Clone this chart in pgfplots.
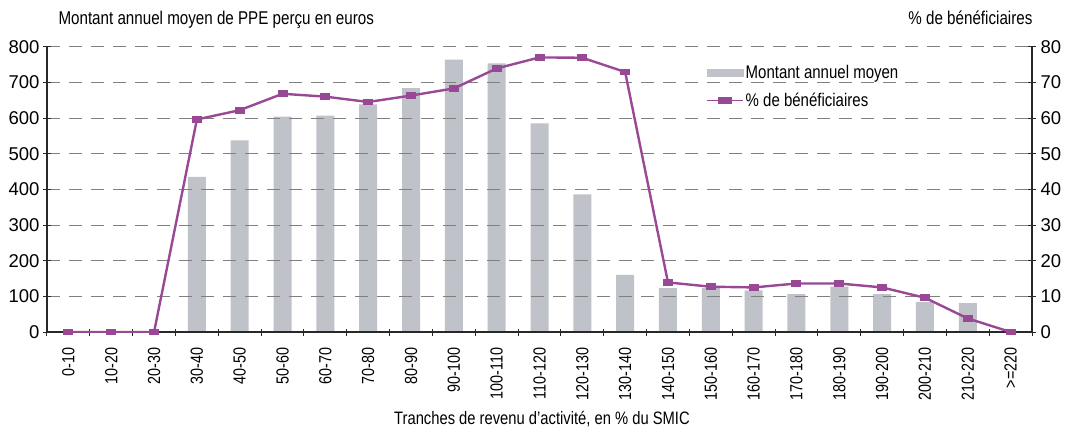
\documentclass[border=0pt]{standalone}
\usepackage{pgfplots}
\pgfplotsset{compat=1.18}
\usepackage{fontspec}
\setmainfont{Liberation Sans}[FakeStretch=0.82]
\newfontfamily\numfont{Liberation Sans}
\definecolor{barcol}{RGB}{192,194,201}
\definecolor{linecol}{RGB}{152,72,148}
\definecolor{gridcol}{RGB}{128,128,128}
\definecolor{axcol}{RGB}{40,40,40}
\begin{document}
\begin{tikzpicture}
\useasboundingbox (-47pt,-94pt) rectangle (1018pt,332pt);
\begin{axis}[
  at={(0,0)}, anchor=south west,
  scale only axis, width=985pt, height=285.3pt,
  xmin=-0.5, xmax=22.5, ymin=0, ymax=800,
  axis x line*=bottom, axis y line*=left,
  axis line style={line width=1.5pt, color=axcol, -},
  ytick={0,100,...,800},
  xtick={0,...,22},
  xticklabels={0-10,10-20,20-30,30-40,40-50,50-60,60-70,70-80,80-90,90-100,100-110,110-120,120-130,130-140,140-150,150-160,160-170,170-180,180-190,190-200,200-210,210-220,>=220},
  minor xtick={-0.5,0.5,...,22.5},
  major tick length=8pt, minor tick length=7pt,
  tick align=center,
  tick style={color=axcol, line width=1pt},
  xtick style={draw=none},
  minor x tick style={draw=axcol, line width=1pt},
  ymajorgrids,
  grid style={gridcol, line width=1pt, dash pattern=on 13pt off 9pt},
  axis on top,
  /pgf/number format/assume math mode=true,
  yticklabel style={font=\numfont\fontsize{18.5}{20}\selectfont, anchor=east, xshift=0pt},
  xticklabel style={font=\fontsize{17.5}{17}\selectfont, rotate=90, anchor=east, yshift=0pt, xshift=-8pt},
  xlabel={Tranches de revenu d’activité, en \% du SMIC},
  xlabel style={font=\fontsize{18}{18}\selectfont, at={(axis description cs:0.5025,-0.3225)}, anchor=base},
  title={Montant annuel moyen de PPE perçu en euros},
  title style={font=\fontsize{18.5}{18}\selectfont, at={(axis description cs:0.0081,1.0585)}, anchor=base west},
]
\addplot[ybar, bar width=18pt, fill=barcol, draw=none] coordinates {
(0,0) (1,0) (2,0) (3,435) (4,537) (5,604) (6,607) (7,638) (8,684) (9,764) (10,753) (11,585) (12,386) (13,160) (14,123) (15,123) (16,117) (17,106) (18,127) (19,106) (20,84) (21,81) (22,0)
};
\end{axis}
\begin{axis}[
  at={(0,0)}, anchor=south west,
  scale only axis, width=985pt, height=285.3pt,
  xmin=-0.5, xmax=22.5, ymin=0, ymax=80,
  axis x line=none, axis y line*=right,
  axis line style={line width=1.5pt, color=axcol, -},
  ytick={0,10,...,80},
  major tick length=8pt, tick align=center,
  tick style={color=axcol, line width=1pt},
  /pgf/number format/assume math mode=true,
  yticklabel style={font=\numfont\fontsize{18.5}{20}\selectfont, anchor=west, xshift=1pt},
  title={\% de bénéficiaires},
  title style={font=\fontsize{18.5}{18}\selectfont, at={(axis description cs:1.004,1.0585)}, anchor=base east},
  legend style={at={(axis description cs:0.669,0.8605)}, anchor=west, draw=none, fill=none,
    font=\fontsize{18.3}{18}\selectfont, row sep=9pt, inner sep=0pt,
    nodes={inner sep=2pt}},
  legend cell align=left,
]
\addlegendimage{legend image code/.code={\fill[barcol] (0pt,-3.5pt) rectangle (36pt,3.5pt);}}
\addlegendentry{Montant annuel moyen}
\addplot[color=linecol, line width=2.4pt, mark=square*, mark size=4.5pt,
  mark options={yscale=0.65, line width=0pt, fill=linecol},
  legend image code/.code={\draw[linecol, line width=1.5pt] (0pt,0pt) -- (36pt,0pt);
    \fill[linecol] (12pt,-2.5pt) rectangle (24pt,2.5pt);}]
coordinates {
(0,0) (1,0) (2,0) (3,59.6) (4,62.2) (5,66.8) (6,66) (7,64.5) (8,66.3) (9,68.3) (10,73.9) (11,77.0) (12,76.9) (13,72.9) (14,13.9) (15,12.7) (16,12.5) (17,13.6) (18,13.6) (19,12.5) (20,9.6) (21,3.8) (22,0)
};
\addlegendentry{\% de bénéficiaires}
\end{axis}
\end{tikzpicture}
\end{document}
